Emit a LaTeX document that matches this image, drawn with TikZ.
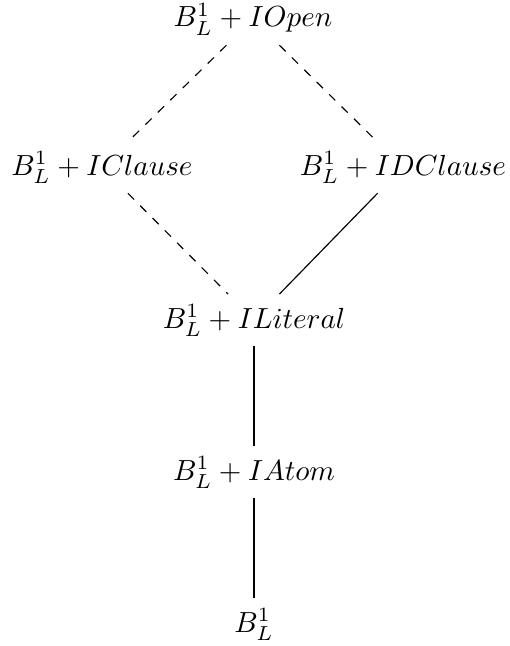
\documentclass[tikz,border=0pt]{standalone}
\begin{document}
\begin{tikzpicture}[x=0.344pt,y=-0.344pt,
  lat/.style={anchor=base},
  weak/.style={dashed},
  strong/.style={}]
\useasboundingbox (0,0) rectangle (509,646);
\node[lat] (open)   at (253,27)  {$B_L^1 + IOpen$};
\node[lat] (clause) at (102,175) {$B_L^1 + IClause$};
\node[lat] (dclause) at (403,175) {$B_L^1 + IDClause$};
\node[lat] (lit)    at (254,328) {$B_L^1 + ILiteral$};
\node[lat] (atom)   at (254,480) {$B_L^1 + IAtom$};
\node[lat] (base)   at (254,632) {$B_L^1$};
\draw[weak] (open) -- (clause);
\draw[weak] (open) -- (dclause);
\draw[weak] (clause) -- (lit);
\draw[strong] (dclause) -- (lit);
\draw[strong] (lit) -- (atom);
\draw[strong] (atom) -- (base);
\end{tikzpicture}
\end{document}
